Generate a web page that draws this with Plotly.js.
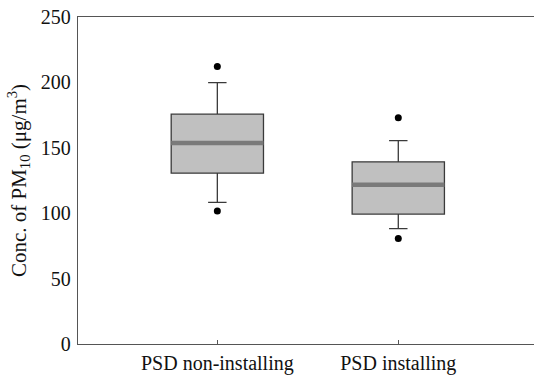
<!DOCTYPE html>
<html>
<head>
<meta charset="utf-8">
<script src="https://cdn.plot.ly/plotly-3.0.1.min.js"></script>
<style>html,body{margin:0;padding:0;background:#fff;}#chart{width:534px;height:377px;}</style>
</head>
<body>
<div id="chart"></div>
<script>
const categories = ["PSD non-installing", "PSD installing"];
const q1 = [130.6, 99.3];
const median = [153.6, 121.8];
const q3 = [175.7, 139.3];
const lowerWhisker = [108.2, 88.2];
const upperWhisker = [199.8, 155.5];
const outlierCats = ["PSD non-installing", "PSD non-installing", "PSD installing", "PSD installing"];
const outlierValues = [212.1, 101.6, 172.9, 80.7];
const yTicks = [0, 50, 100, 150, 200, 250];

const font = {family: "Liberation Serif, Times New Roman, serif", size: 20, color: "#111"};
const titleFont = {family: "Liberation Serif, Times New Roman, serif", size: 21, color: "#111"};

const traces = [
  {
    type: "box", x: categories, q1: q1, median: median, q3: q3,
    lowerfence: lowerWhisker, upperfence: upperWhisker,
    width: 0.51, whiskerwidth: 0.2,
    fillcolor: "#c0c0c0", line: {color: "#3a3a3a", width: 1.3},
    boxpoints: false, hoverinfo: "skip", showlegend: false
  },
  {
    type: "box", x: categories, q1: median, median: median, q3: median,
    lowerfence: median, upperfence: median,
    width: 0.51, whiskerwidth: 0,
    fillcolor: "rgba(0,0,0,0)", line: {color: "#7a7a7a", width: 4.5},
    boxpoints: false, hoverinfo: "skip", showlegend: false
  },
  {
    type: "scatter", mode: "markers", x: outlierCats, y: outlierValues,
    marker: {color: "#000", size: 7},
    hoverinfo: "skip", showlegend: false
  }
];

const layout = {
  width: 534, height: 377,
  margin: {l: 78, r: 0, t: 17, b: 33},
  paper_bgcolor: "#fff", plot_bgcolor: "#fff",
  font: font,
  boxmode: "overlay",
  xaxis: {
    type: "category", range: [-0.77, 1.75],
    showline: true, linecolor: "#555", linewidth: 1.3, mirror: true,
    ticks: "inside", ticklen: 4, tickcolor: "#555",
    showgrid: false, zeroline: false, tickfont: font, fixedrange: true,
    ticklabelstandoff: 1
  },
  yaxis: {
    range: [0, 250], tickvals: yTicks, ticktext: yTicks.map(String),
    showline: true, linecolor: "#555", linewidth: 1.3,
    ticks: "", showgrid: false, zeroline: false, tickfont: font,
    ticklabelstandoff: 2,
    title: {text: "Conc. of PM<sub>10</sub> (μg/m<sup>3</sup>)", font: titleFont, standoff: 8},
    fixedrange: true
  }
};

Plotly.newPlot("chart", traces, layout, {displayModeBar: false, staticPlot: true});
</script>
</body>
</html>
